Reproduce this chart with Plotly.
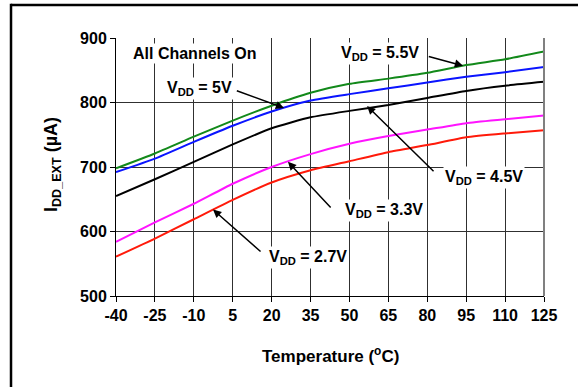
import plotly.graph_objects as go

temps = [-40, -25, -10, 5, 20, 35, 50, 65, 80, 95, 110, 125]
vdd_5v5 = [698, 721, 747, 772, 795, 815, 829, 837, 846, 858, 867, 879]
vdd_5v0 = [692, 713, 739, 764, 786, 803, 813, 822, 831, 840, 847, 855]
vdd_4v5 = [655, 681, 708, 735, 760, 777, 787, 796, 807, 818, 826, 832]
vdd_3v3 = [584, 614, 643, 674, 700, 720, 736, 748, 758, 768, 774, 780]
vdd_2v7 = [561, 589, 619, 649, 676, 695, 709, 723, 734, 746, 752, 757]

x_ticks = temps
y_ticks = [500, 600, 700, 800, 900]

series = [
    ("5.5V", vdd_5v5, "#12891a"),
    ("5V", vdd_5v0, "#0a14ff"),
    ("4.5V", vdd_4v5, "#000000"),
    ("3.3V", vdd_3v3, "#ff14ff"),
    ("2.7V", vdd_2v7, "#ff1a0a"),
]

FONT = "Arial, Liberation Sans, sans-serif"

fig = go.Figure()
for name, ys, col in series:
    fig.add_trace(go.Scatter(x=temps, y=ys, mode="lines", name=name,
                             line=dict(color=col, width=2, shape="spline", smoothing=0.5),
                             showlegend=False))

# text labels (white box to break gridlines)
labels = [
    ("<b>All Channels On</b>", -9.5, 876.5, "center", 16),
    ("<b>V<sub>DD</sub> = 5V</b>", 5.3, 822, "right", 16),
    ("<b>V<sub>DD</sub> = 5.5V</b>", 77.6, 876.5, "right", 16),
    ("<b>V<sub>DD</sub> = 4.5V</b>", 86.0, 684, "left", 16),
    ("<b>V<sub>DD</sub> = 3.3V</b>", 47.5, 633, "left", 16),
    ("<b>V<sub>DD</sub> = 2.7V</b>", 18.3, 560, "left", 16),
]
for txt, xx, yy, anc, fs in labels:
    fig.add_annotation(x=xx, y=yy, text=txt, showarrow=False, xanchor=anc, yanchor="middle",
                       bgcolor="white", borderpad=1,
                       font=dict(family=FONT, size=fs, color="black"))

# arrows: (tail_x, tail_y, head_x, head_y)
arrows = [
    (6.0, 819, 24.8, 791.5),
    (80.0, 872, 93.8, 857),
    (83.0, 691, 56.8, 794.5),
    (43.3, 635, 26.3, 708),
    (16.3, 567, -2.6, 634),
]
for tx, ty, hx, hy in arrows:
    fig.add_annotation(x=hx, y=hy, ax=tx, ay=ty, axref="x", ayref="y", xref="x", yref="y",
                       text="", showarrow=True, arrowhead=2, arrowsize=1.1, arrowwidth=1.5,
                       arrowcolor="black", standoff=0, startstandoff=0)

# axis titles
fig.add_annotation(xref="paper", yref="paper", x=0, y=0.5, xshift=-64, yshift=2, textangle=-90,
                   text="<b>I<sub>DD_EXT</sub> (µA)</b>", showarrow=False,
                   xanchor="center", yanchor="middle",
                   font=dict(family=FONT, size=18, color="black"))
fig.add_annotation(xref="paper", yref="paper", x=0.5, y=0, yshift=-59,
                   text="<b>Temperature (<sup>o</sup>C)</b>", showarrow=False,
                   xanchor="center", yanchor="middle",
                   font=dict(family=FONT, size=17, color="black"))

# outer frame: left and top edges (others lie outside the picture)
fig.add_shape(type="line", xref="paper", yref="paper",
              x0=-0.2453, x1=-0.2453, y0=-0.45, y1=1.133,
              line=dict(color="black", width=2.5), layer="above")
fig.add_shape(type="line", xref="paper", yref="paper",
              x0=-0.2453, x1=1.12, y0=1.128, y1=1.128,
              line=dict(color="black", width=2.5), layer="above")
# right plot border
fig.add_shape(type="line", xref="paper", yref="paper", x0=1, x1=1, y0=0, y1=1,
              line=dict(color="#808080", width=2))

fig.update_layout(
    width=578, height=387,
    margin=dict(l=116, r=34, t=38, b=91),
    paper_bgcolor="white", plot_bgcolor="white",
    font=dict(family=FONT, color="black"),
    xaxis=dict(range=[-40, 125], tickvals=x_ticks, ticktext=[str(v) for v in x_ticks],
               showgrid=True, gridcolor="#303030", gridwidth=1,
               showline=True, linecolor="black", linewidth=1,
               ticks="outside", ticklen=5, tickcolor="black",
               tickfont=dict(family=FONT, size=16, weight="bold"), zeroline=False),
    yaxis=dict(range=[500, 900], tickvals=y_ticks,
               showgrid=True, gridcolor="#303030", gridwidth=1,
               showline=True, linecolor="black", linewidth=1,
               ticks="outside", ticklen=5, tickcolor="black",
               tickfont=dict(family=FONT, size=16, weight="bold"), zeroline=False),
)

# remove the default page margin so the figure fills the window exactly
fig.write_html("out.html", config={"displayModeBar": False},
               post_script="document.body.style.margin='0px';")
